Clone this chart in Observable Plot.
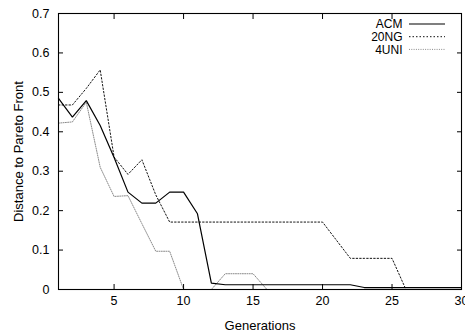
<!DOCTYPE html>
<html>
<head>
<meta charset="utf-8">
<script src="https://cdn.jsdelivr.net/npm/d3@7"></script>
<script src="https://cdn.jsdelivr.net/npm/@observablehq/plot@0.6"></script>
<style>
  html, body { margin: 0; padding: 0; background: #fff; }
  #chart { position: relative; width: 465px; height: 331px; overflow: hidden; }
  svg { font-family: "Liberation Sans", Arial, Helvetica, sans-serif; }
</style>
</head>
<body>
<div id="chart"></div>
<script>
const generations = [1,2,3,4,5,6,7,8,9,10,11,12,13,14,15,16,17,18,19,20,21,22,23,24,25,26,27,28,29,30];
const acm  = [0.485,0.437,0.479,0.416,0.335,0.247,0.219,0.219,0.247,0.247,0.192,0.016,0.012,0.012,0.012,0.012,0.012,0.012,0.012,0.012,0.012,0.012,0.005,0.005,0.005,0.005,0.005,0.005,0.005,0.005];
const ng20 = [0.468,0.468,0.51,0.557,0.336,0.292,0.329,0.24,0.171,0.171,0.171,0.171,0.171,0.171,0.171,0.171,0.171,0.171,0.171,0.171,0.125,0.079,0.079,0.079,0.079,0,0,0,0,0];
const uni4 = [0.422,0.425,0.475,0.31,0.236,0.238,0.167,0.097,0.097,0,0,0,0.04,0.04,0.04,0,0,0,0,0,0,0,0,0,0,0,0,0,0,0];
const seriesNames = ["ACM", "20NG", "4UNI"];
const xTicks = [5,10,15,20,25,30];
const yTicks = [0,0.1,0.2,0.3,0.4,0.5,0.6,0.7];

const styles = {
  "ACM":  {stroke: "#000", strokeWidth: 1.2, dash: null},
  "20NG": {stroke: "#111", strokeWidth: 1, dash: "1.5,2"},
  "4UNI": {stroke: "#8a8a8a", strokeWidth: 1, dash: "1,1.3"}
};
const values = {"ACM": acm, "20NG": ng20, "4UNI": uni4};
const tables = seriesNames.map(name => generations.map((g, i) => ({x: g, y: values[name][i], name})));

const W = 465, H = 331, mL = 58, mR = 4, mT = 13, mB = 42;
const tickFs = 12.5, labelFs = 13, legendFs = 12;

const lineMarks = tables.map((t, i) => {
  const s = styles[seriesNames[i]];
  return Plot.line(t, {x: "x", y: "y", stroke: s.stroke, strokeWidth: s.strokeWidth, strokeDasharray: s.dash, strokeLinejoin: "miter"});
}).reverse();

const plot = Plot.plot({
  width: W, height: H,
  marginLeft: mL, marginRight: mR, marginTop: mT, marginBottom: mB,
  style: {fontSize: tickFs + "px", fontFamily: "Liberation Sans, Arial, sans-serif", color: "#000", background: "#fff"},
  x: {domain: [1, 30]},
  y: {domain: [0, 0.7]},
  marks: [
    ...lineMarks,
    Plot.axisX(xTicks, {anchor: "bottom", tickSize: -5, tickPadding: 12, label: null, stroke: "#000"}),
    Plot.axisX({anchor: "bottom", ticks: [], label: "Generations", labelAnchor: "center", labelArrow: "none", labelOffset: 40, fontSize: labelFs}),
    Plot.axisX(xTicks, {anchor: "top", tickSize: -5, tickFormat: () => "", label: null, stroke: "#000"}),
    Plot.axisY(yTicks, {anchor: "left", tickSize: -5, tickPadding: 14, tickFormat: d => String(d), label: null, stroke: "#000"}),
    Plot.axisY({anchor: "left", ticks: [], label: "Distance to Pareto Front", labelAnchor: "center", labelArrow: "none", labelOffset: 45, fontSize: labelFs}),
    Plot.axisY(yTicks, {anchor: "right", tickSize: -5, tickFormat: () => "", label: null, stroke: "#000"}),
    Plot.frame({stroke: "#000", strokeWidth: 1.1})
  ]
});

document.getElementById("chart").appendChild(plot);

// Legend inside the top-right of the frame
const svg = d3.select(plot);
const lg = svg.append("g").attr("class", "legend");
const right = W - mR;
seriesNames.forEach((name, i) => {
  const s = styles[name];
  const cy = mT + 11 + i * 12.7;
  lg.append("text")
    .attr("x", right - 58.5).attr("y", cy).attr("dy", "0.35em")
    .attr("text-anchor", "end").attr("font-size", legendFs).attr("fill", "#000")
    .text(name);
  lg.append("line")
    .attr("x1", right - 52).attr("x2", right - 16)
    .attr("y1", cy).attr("y2", cy)
    .attr("stroke", s.stroke).attr("stroke-width", s.strokeWidth)
    .attr("stroke-dasharray", s.dash);
});
</script>
</body>
</html>
